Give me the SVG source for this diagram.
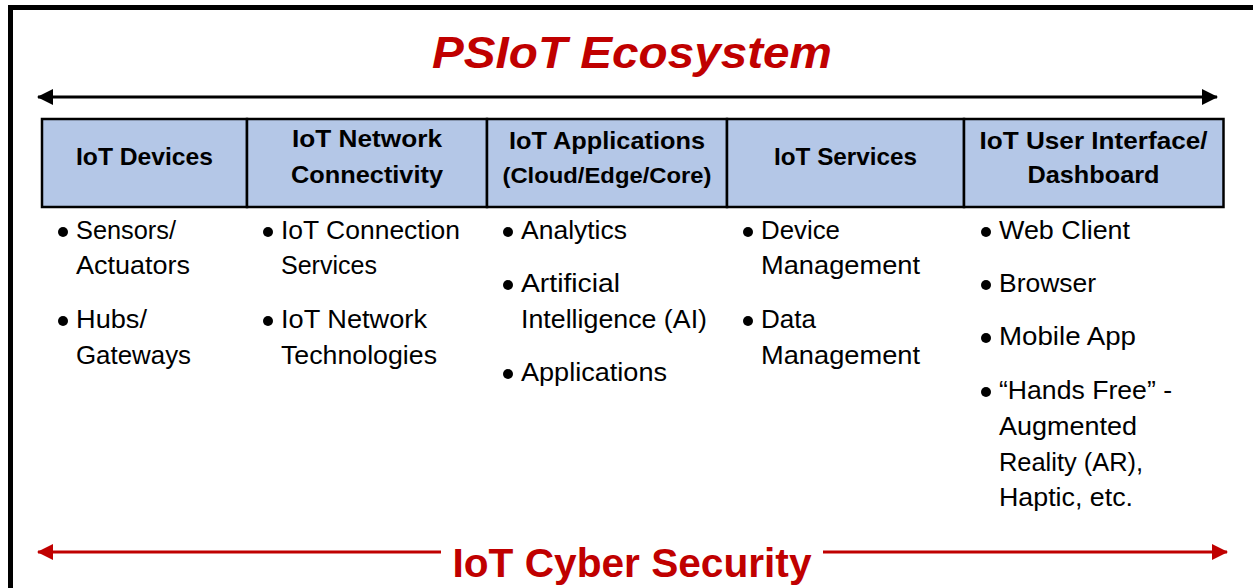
<svg xmlns="http://www.w3.org/2000/svg" width="1253" height="588" viewBox="0 0 1253 588">
<defs>
<marker id="ab" viewBox="0 0 16 16" refX="15" refY="8" markerWidth="16" markerHeight="16" markerUnits="userSpaceOnUse" orient="auto-start-reverse"><path d="M0,0 L16,8 L0,16 Z" fill="#000"/></marker>
<marker id="ar" viewBox="0 0 16 16" refX="15" refY="8" markerWidth="16" markerHeight="16" markerUnits="userSpaceOnUse" orient="auto-start-reverse"><path d="M0,0 L16,8 L0,16 Z" fill="#C00000"/></marker>
<style>
.hd{font-family:"Liberation Sans",Arial,sans-serif;font-weight:bold;font-size:24px;fill:#000;text-anchor:middle}
.it{font-family:"Liberation Sans",Arial,sans-serif;font-size:26px;fill:#000}
.cell{fill:#B4C7E7;stroke:#000;stroke-width:2.5}
.bul{fill:#000}
</style>
</defs>
<rect width="1253" height="588" fill="#fff"/>
<path d="M10.5,588 V7.5 H1253" fill="none" stroke="#000" stroke-width="5"/>
<text x="632" y="68" font-family="'Liberation Sans',Arial,sans-serif" font-weight="bold" font-style="italic" font-size="44" fill="#C00000" text-anchor="middle" textLength="400" lengthAdjust="spacingAndGlyphs">PSIoT Ecosystem</text>
<g id="connectors">
<line x1="38" y1="97" x2="1217" y2="97" stroke="#000" stroke-width="3" marker-start="url(#ab)" marker-end="url(#ab)"/>
<line x1="38" y1="552" x2="441" y2="552" stroke="#C00000" stroke-width="3" marker-start="url(#ar)"/>
<line x1="823" y1="552" x2="1227" y2="552" stroke="#C00000" stroke-width="3" marker-end="url(#ar)"/>
</g>
<text x="632" y="577" font-family="'Liberation Sans',Arial,sans-serif" font-weight="bold" font-size="41" fill="#C00000" text-anchor="middle" textLength="359" lengthAdjust="spacingAndGlyphs">IoT Cyber Security</text>
<g id="col1">
<rect class="cell" x="42" y="119" width="205" height="88"/>
<text class="hd" x="144.5" y="165" textLength="137" lengthAdjust="spacingAndGlyphs">IoT Devices</text>
<circle class="bul" cx="63" cy="232" r="5"/>
<text class="it" x="76" y="239" textLength="100" lengthAdjust="spacingAndGlyphs">Sensors/</text>
<text class="it" x="76" y="274" textLength="114" lengthAdjust="spacingAndGlyphs">Actuators</text>
<circle class="bul" cx="63" cy="321" r="5"/>
<text class="it" x="76" y="328" textLength="71" lengthAdjust="spacingAndGlyphs">Hubs/</text>
<text class="it" x="76" y="364" textLength="115" lengthAdjust="spacingAndGlyphs">Gateways</text>
</g>
<g id="col2">
<rect class="cell" x="247" y="119" width="240" height="88"/>
<text class="hd" x="367" y="147" textLength="150" lengthAdjust="spacingAndGlyphs">IoT Network</text>
<text class="hd" x="367" y="183" textLength="152" lengthAdjust="spacingAndGlyphs">Connectivity</text>
<circle class="bul" cx="268" cy="232" r="5"/>
<text class="it" x="281" y="239" textLength="179" lengthAdjust="spacingAndGlyphs">IoT Connection</text>
<text class="it" x="281" y="274" textLength="96" lengthAdjust="spacingAndGlyphs">Services</text>
<circle class="bul" cx="268" cy="321" r="5"/>
<text class="it" x="281" y="328" textLength="146" lengthAdjust="spacingAndGlyphs">IoT Network</text>
<text class="it" x="281" y="364" textLength="156" lengthAdjust="spacingAndGlyphs">Technologies</text>
</g>
<g id="col3">
<rect class="cell" x="487" y="119" width="240" height="88"/>
<text class="hd" x="607" y="149" textLength="196" lengthAdjust="spacingAndGlyphs">IoT Applications</text>
<text class="hd" x="607" y="183" style="font-size:22px" textLength="209" lengthAdjust="spacingAndGlyphs">(Cloud/Edge/Core)</text>
<circle class="bul" cx="508" cy="232" r="5"/>
<text class="it" x="521" y="239" textLength="106" lengthAdjust="spacingAndGlyphs">Analytics</text>
<circle class="bul" cx="508" cy="285" r="5"/>
<text class="it" x="521" y="292" textLength="99" lengthAdjust="spacingAndGlyphs">Artificial</text>
<text class="it" x="521" y="328" textLength="186" lengthAdjust="spacingAndGlyphs">Intelligence (AI)</text>
<circle class="bul" cx="508" cy="374" r="5"/>
<text class="it" x="521" y="381" textLength="146" lengthAdjust="spacingAndGlyphs">Applications</text>
</g>
<g id="col4">
<rect class="cell" x="727" y="119" width="237" height="88"/>
<text class="hd" x="845.5" y="165" textLength="143" lengthAdjust="spacingAndGlyphs">IoT Services</text>
<circle class="bul" cx="748" cy="232" r="5"/>
<text class="it" x="761" y="239" textLength="79" lengthAdjust="spacingAndGlyphs">Device</text>
<text class="it" x="761" y="274" textLength="159" lengthAdjust="spacingAndGlyphs">Management</text>
<circle class="bul" cx="748" cy="321" r="5"/>
<text class="it" x="761" y="328" textLength="55" lengthAdjust="spacingAndGlyphs">Data</text>
<text class="it" x="761" y="364" textLength="159" lengthAdjust="spacingAndGlyphs">Management</text>
</g>
<g id="col5">
<rect class="cell" x="964" y="119" width="259.5" height="88"/>
<text class="hd" x="1093.5" y="149" textLength="228" lengthAdjust="spacingAndGlyphs">IoT User Interface/</text>
<text class="hd" x="1093.5" y="183" textLength="132" lengthAdjust="spacingAndGlyphs">Dashboard</text>
<circle class="bul" cx="986" cy="232" r="5"/>
<text class="it" x="999" y="239" textLength="131" lengthAdjust="spacingAndGlyphs">Web Client</text>
<circle class="bul" cx="986" cy="285" r="5"/>
<text class="it" x="999" y="292" textLength="97" lengthAdjust="spacingAndGlyphs">Browser</text>
<circle class="bul" cx="986" cy="338" r="5"/>
<text class="it" x="999" y="345" textLength="137" lengthAdjust="spacingAndGlyphs">Mobile App</text>
<circle class="bul" cx="986" cy="392" r="5"/>
<text class="it" x="999" y="399" textLength="173" lengthAdjust="spacingAndGlyphs">“Hands Free” -</text>
<text class="it" x="999" y="435" textLength="138" lengthAdjust="spacingAndGlyphs">Augmented</text>
<text class="it" x="999" y="471" textLength="144" lengthAdjust="spacingAndGlyphs">Reality (AR),</text>
<text class="it" x="999" y="506" textLength="134" lengthAdjust="spacingAndGlyphs">Haptic, etc.</text>
</g>
</svg>
